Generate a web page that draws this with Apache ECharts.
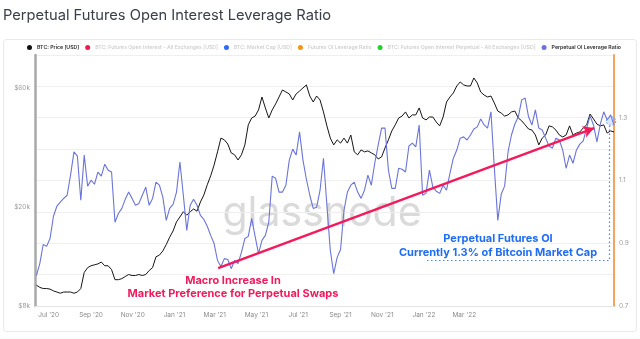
<!DOCTYPE html>
<html><head><meta charset="utf-8">
<script src="https://cdn.jsdelivr.net/npm/echarts@6/dist/echarts.min.js"></script>
<style>html,body{margin:0;padding:0;background:#fff;}#c{width:640px;height:339px;}</style>
</head><body><div id="c"></div>
<script>
// ---------- DATA ----------
const startDate = '2020-06-13';   // first sample
const stepDays = 5;               // sampling step of the series below
const btcPrice = [
9700,9500,9400,9400,9350,9200,9100,9000,9100,9100,
9100,9000,9100,9400,10900,11400,11600,11700,11800,12000,
11600,11600,11200,10200,10200,10300,10500,10700,10600,10600,
10700,10600,10700,11100,11400,12600,12800,13300,14100,15100,
16000,17400,18200,19100,18500,19100,19600,19200,20900,22300,
24500,26600,29400,33200,37700,37100,35700,32900,32300,30800,
32300,35400,42600,45400,46200,48900,55100,49800,45400,48900,
51700,55100,58800,57700,56700,53600,56700,58200,59900,61600,
55600,52600,55600,53600,48000,42200,37700,35400,37100,36000,
37700,36000,38800,33200,32300,33800,33200,33500,32900,32300,
31100,31700,34400,37100,40300,42600,45400,46200,48000,45400,
46700,46700,49800,45400,44600,45800,45800,43700,42200,45800,
52600,55100,57200,61000,63300,61600,61000,61000,65700,62700,
57700,56100,55100,55600,52100,48400,47500,46200,46700,48000,
48400,45400,44200,42600,41000,40600,38800,35400,37700,38800,
42200,41800,40600,38800,38100,38800,42200,38800,39500,39900,
41400,42600,47100,45000,42900,42200,42600,39500,40300,39900
];
const perpOiLeverage = [
0.797,0.835,0.896,0.890,0.915,0.986,1.018,1.031,1.043,1.053,
1.117,1.191,1.178,1.037,1.181,1.082,1.101,1.088,1.127,1.114,
1.152,1.133,1.127,0.967,0.995,1.011,1.040,1.063,1.043,1.021,
1.027,1.053,1.079,1.021,1.043,1.095,1.085,1.047,0.973,1.011,
1.024,1.063,1.159,1.053,0.941,1.021,1.040,1.021,0.989,0.976,
0.954,0.925,0.899,0.845,0.826,0.851,0.848,0.819,0.845,0.835,
0.871,0.915,0.922,0.979,0.922,0.867,0.909,0.925,0.967,1.114,
1.107,1.063,1.063,1.085,1.165,1.200,1.181,1.255,1.165,1.104,
1.053,1.011,1.015,1.069,1.171,1.021,0.877,0.803,0.855,0.880,
1.005,1.063,1.085,1.095,1.063,1.043,1.069,1.117,1.085,1.155,
1.213,1.267,1.267,1.133,1.075,1.075,1.139,1.136,1.127,1.210,
1.219,1.207,1.277,1.053,1.059,1.133,1.079,1.066,1.059,1.085,
1.069,1.123,1.171,1.197,1.235,1.239,1.229,1.245,1.264,1.271,
1.296,1.277,1.267,1.319,1.139,0.973,1.056,1.082,1.191,1.245,
1.280,1.303,1.357,1.363,1.303,1.277,1.325,1.267,1.261,1.235,
1.210,1.203,1.235,1.229,1.197,1.139,1.181,1.155,1.197,1.216,
1.226,1.267,1.306,1.277,1.223,1.280,1.319,1.293,1.309,1.277
];
const xTickDates = ['2020-07-01','2020-09-01','2020-11-01','2021-01-01','2021-03-01','2021-05-01',
                    '2021-07-01','2021-09-01','2021-11-01','2022-01-01','2022-03-01'];
const xTickLabels = ["Jul '20","Sep '20","Nov '20","Jan '21","Mar '21","May '21",
                     "Jul '21","Sep '21","Nov '21","Jan '22","Mar '22"];
const leftTickValues = [8000, 20000, 60000];
const leftTickLabels = ['$8k', '$20k', '$60k'];
const rightTickValues = [0.7, 0.9, 1.1, 1.3];
const legendNames = [
  'BTC: Price [USD]',
  'BTC: Futures Open Interest - All Exchanges [USD]',
  'BTC: Market Cap [USD]',
  'Futures OI Leverage Ratio',
  'BTC: Futures Open Interest Perpetual - All Exchanges [USD]',
  'Perpetual OI Leverage Ratio'
];
const legendColors = ['#111111','#f2184f','#2a6cf6','#f7931a','#22d12a','#6b74d8'];
const legendActive = [true,false,false,false,false,true];
// annotation arrow (data coordinates on the ratio axis)
const arrowFrom = ['2021-03-06', 0.821];
const arrowTo = ['2022-09-07', 1.267];

// ---------- CHART ----------
const DAY = 86400000;
const toT = d => Date.parse(d + 'T00:00:00Z');
const t0 = toT(startDate);
const dates = btcPrice.map((_, i) => t0 + i * stepDays * DAY);
const xTickTimes = xTickDates.map(toT);

const chart = echarts.init(document.getElementById('c'), null, {renderer: 'canvas'});
const FONT = 'Inter, "Noto Sans", sans-serif';

const series = legendNames.map((name, k) => ({
  name, type: 'line', showSymbol: false, symbol: 'none', animation: false,
  color: legendColors[k], data: []
}));
series[0].yAxisIndex = 0;
series[0].data = dates.map((t, i) => [t, btcPrice[i]]);
series[0].lineStyle = {color: '#161616', width: 1};
series[0].z = 3;
series[5].yAxisIndex = 1;
series[5].data = dates.map((t, i) => [t, perpOiLeverage[i]]);
series[5].lineStyle = {color: '#6b74d8', width: 1.1};
series[5].z = 4;
series[5].markLine = {
  silent: true, animation: false, symbol: ['none', 'arrow'], symbolSize: [9, 11],
  label: {show: false},
  lineStyle: {color: '#f31a5b', width: 2.4, type: 'solid'},
  data: [[{coord: [toT(arrowFrom[0]), arrowFrom[1]]}, {coord: [toT(arrowTo[0]), arrowTo[1]]}]]
};
for (let k = 1; k <= 4; k++) { series[k].yAxisIndex = (k === 3 ? 1 : 0); }

const option = {
  animation: false,
  backgroundColor: '#ffffff',
  grid: {left: 35, right: 26, top: 55, bottom: 33, containLabel: false},
  legend: {
    left: 27, top: 45, width: 640, itemWidth: 5, itemHeight: 5, itemGap: 6, icon: 'circle',
    selectedMode: false, padding: 0,
    textStyle: {fontSize: 5.2, fontWeight: 600, color: '#2b2b2b', fontFamily: FONT},
    data: legendNames.map((n, k) => legendActive[k] ? {name: n} : {name: n, textStyle: {color: '#cbcbcb', fontWeight: 500}})
  },
  xAxis: {
    type: 'value', min: t0 - 2 * DAY, max: dates[dates.length - 1],
    axisLine: {show: true, lineStyle: {color: '#e4e4e4', width: 1}},
    axisTick: {show: false}, splitLine: {show: false},
    axisLabel: {
      customValues: xTickTimes, fontSize: 6.5, color: '#8a8a8a', margin: 6, fontFamily: FONT,
      formatter: v => { const i = xTickTimes.findIndex(t => Math.abs(t - v) < DAY); return i >= 0 ? xTickLabels[i] : ''; }
    }
  },
  yAxis: [
    {
      type: 'log', logBase: 10, min: 8000, max: 81200, position: 'left',
      axisLine: {show: true, lineStyle: {color: '#a9a9a9', width: 2.5}},
      axisTick: {show: false}, splitLine: {show: false},
      axisLabel: {
        customValues: leftTickValues, fontSize: 6.5, color: '#9a9a9a', margin: 5, fontFamily: FONT,
        formatter: v => { const i = leftTickValues.findIndex(t => Math.abs(t - v) / t < 0.01); return i >= 0 ? leftTickLabels[i] : ''; }
      }
    },
    {
      type: 'value', min: 0.7, max: 1.5, interval: 0.1, position: 'right',
      axisLine: {show: true, lineStyle: {color: '#f7a25e', width: 2}},
      axisTick: {show: false},
      splitLine: {show: true, lineStyle: {color: '#efefef', width: 1}},
      axisLabel: {
        customValues: rightTickValues, fontSize: 6.5, color: '#9a9a9a', margin: 5, fontFamily: FONT,
        formatter: v => v.toFixed(1)
      }
    }
  ],
  graphic: [
    {type: 'rect', z: -10, shape: {x: 3.5, y: 39.5, width: 633, height: 292, r: 3},
     style: {fill: 'none', stroke: '#e9e9e9', lineWidth: 1}},
    {type: 'text', x: 3, y: 16, z: 10,
     style: {text: 'Perpetual Futures Open Interest Leverage Ratio', font: '14.7px ' + FONT, fill: '#3a4049', verticalAlign: 'middle', align: 'left'}},
    {type: 'text', x: 322, y: 193, z: 0, silent: true,
     style: {text: 'glassnode', font: '41px ' + FONT, fill: '#dadada', align: 'center', verticalAlign: 'alphabetic'}},
    {type: 'text', x: 233, y: 287, z: 20,
     style: {text: 'Macro Increase In\nMarket Preference for Perpetual Swaps', font: 'bold 11px ' + FONT,
             fill: '#f31a5b', align: 'center', verticalAlign: 'middle', lineHeight: 13}},
    {type: 'text', x: 498, y: 245.5, z: 20,
     style: {text: 'Perpetual Futures OI\nCurrently 1.3% of Bitcoin Market Cap', font: 'bold 11px ' + FONT,
             fill: '#1f6cf5', align: 'center', verticalAlign: 'middle', lineHeight: 14.4}},
    {type: 'polyline', z: 20, shape: {points: [[427, 260.5], [609.5, 260.5], [609.5, 126]]},
     style: {fill: 'none', stroke: '#4a84f0', lineWidth: 1.2, lineDash: [1.5, 2.5]}},
    {type: 'ellipse', z: 20, shape: {cx: 611, cy: 121, rx: 4.8, ry: 4.3},
     style: {fill: 'rgba(110,160,250,0.25)', stroke: '#6fa0f5', lineWidth: 1, lineDash: [2, 1.5]}}
  ],
  series
};
chart.setOption(option);
</script>
</body></html>
